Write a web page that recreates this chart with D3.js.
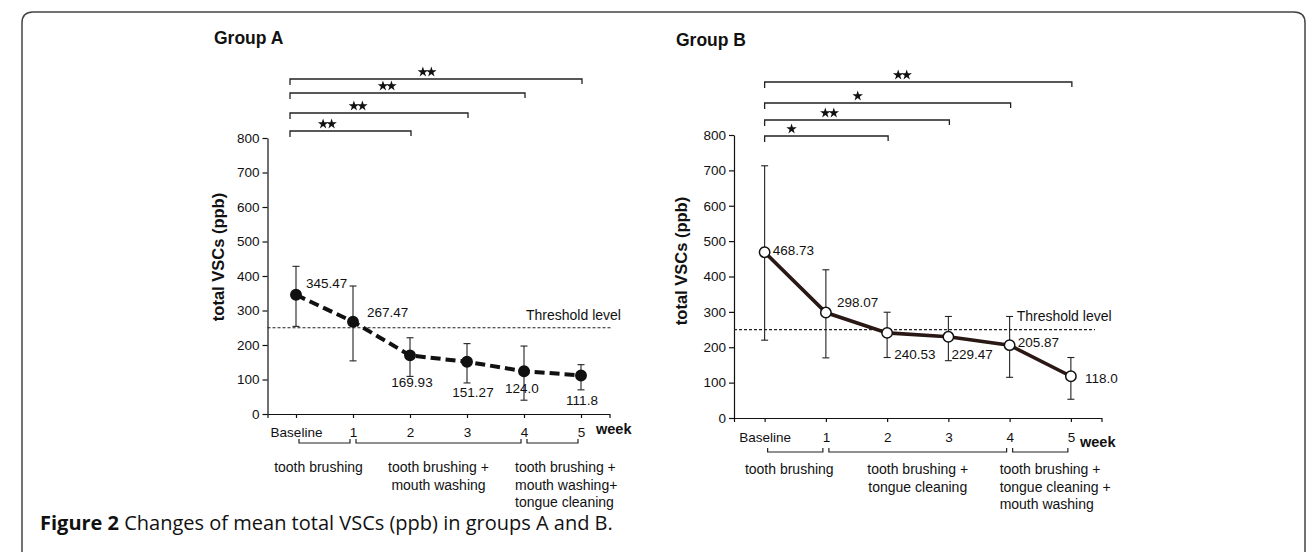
<!DOCTYPE html>
<html>
<head>
<meta charset="utf-8">
<script src="https://cdn.jsdelivr.net/npm/d3@7"></script>
<style>
  body { margin: 0; background: #fff; }
  svg { display: block; font-family: "Liberation Sans", Arial, sans-serif; }
  .axis path, .axis line { stroke: #111; stroke-width: 1.2; }
  .axis text { font-size: 13.5px; fill: #111; font-family: "Liberation Sans", Arial, sans-serif; }
</style>
</head>
<body>
<svg width="1313" height="552"></svg>
<script>
// ---- data ----
var categories = ["Baseline", "1", "2", "3", "4", "5"];
var weeks = [0, 1, 2, 3, 4, 5];
var yTicks = [0, 100, 200, 300, 400, 500, 600, 700, 800];
var threshold = 250;

var meanA  = [345.47, 267.47, 169.93, 151.27, 124.0, 111.8];
var upperA = [428, 371, 221, 204, 197, 143];
var lowerA = [254, 154, 109, 90, 40, 70];

var meanB  = [468.73, 298.07, 240.53, 229.47, 205.87, 118.0];
var upperB = [713, 419, 299, 287, 287, 171];
var lowerB = [220, 170, 171, 162, 115, 53];

// significance vs baseline, outermost bracket first
var sigEndA   = [5, 4, 3, 2];
var sigMarkA  = ["**", "**", "**", "**"];
var sigStarAtA = [2.3, 1.6, 1.09, 0.55];
var sigEndB   = [5, 4, 3, 2];
var sigMarkB  = ["**", "*", "**", "*"];
var sigStarAtB = [2.25, 1.52, 1.06, 0.44];

var phasesA = [
  { from: 0, to: 1, lines: ["tooth brushing"] },
  { from: 1, to: 4, lines: ["tooth brushing +", "mouth washing"] },
  { from: 4, to: 5, lines: ["tooth brushing +", "mouth washing+", "tongue cleaning"] }
];
var phasesB = [
  { from: 0, to: 1, lines: ["tooth brushing"] },
  { from: 1, to: 4, lines: ["tooth brushing +", "tongue cleaning"] },
  { from: 4, to: 5, lines: ["tooth brushing +", "tongue cleaning +", "mouth washing"] }
];

// ---- layout ----
var svg = d3.select("svg");

// page frame (rounded box, open at the bottom)
svg.append("path")
  .attr("d", "M22,560V23Q22,12 33,12H1294Q1305,12 1305,23V560")
  .attr("fill", "none").attr("stroke", "#444").attr("stroke-width", 1.5);

var panelA = {
  title: "Group A", titleX: 214, titleY: 44,
  left: 267.5, right: 609.5, bottom: 414, top: 138,
  yTitleX: 218, yTitleY: 257,
  threshEnd: 612, threshDx: 2,
  weekX: 596, weekY: 434, tickPad: 9,
  mean: meanA, upper: upperA, lower: lowerA,
  filled: true,
  labelOff: [[10, -12, "start"], [14, -9, "start"], [2, 27, "middle"], [6, 30, "middle"], [-2, 17, "middle"], [1, 25, "middle"]],
  sigEnd: sigEndA, sigMark: sigMarkA, sigStarAt: sigStarAtA,
  sigY: [79, 93, 113, 131], sigDx: -6,
  phases: phasesA, phaseY: 443, phaseTextY: 472, lastDx: -9
};
var panelB = {
  title: "Group B", titleX: 676, titleY: 46,
  left: 734, right: 1101.5, bottom: 418, top: 135,
  yTitleX: 681, yTitleY: 261,
  threshEnd: 1095, threshDx: 7,
  weekX: 1080, weekY: 447, tickPad: 10,
  mean: meanB, upper: upperB, lower: lowerB,
  filled: false,
  labelOff: [[8, -2, "start"], [11, -10, "start"], [7, 21, "start"], [3, 17, "start"], [8, -3, "start"], [14, 2, "start"]],
  sigEnd: sigEndB, sigMark: sigMarkB, sigStarAt: sigStarAtB,
  sigY: [82, 103, 120, 136], sigDx: 0,
  phases: phasesB, phaseY: 452, phaseTextY: 474, lastDx: -10
};

function drawPanel(p) {
  var x = d3.scaleLinear().domain([-0.5, 5.5]).range([p.left, p.right]);
  var y = d3.scaleLinear().domain([0, 800]).range([p.bottom, p.top]);
  var g = svg.append("g");

  g.append("text")
    .attr("x", p.titleX).attr("y", p.titleY)
    .attr("font-size", 17.5).attr("font-weight", "bold").attr("fill", "#111")
    .text(p.title);

  // axes
  g.append("g").attr("class", "axis")
    .attr("transform", "translate(" + p.left + ",0)")
    .call(d3.axisLeft(y).tickValues(yTicks).tickSize(5).tickSizeOuter(0));

  g.append("g").attr("class", "axis")
    .attr("transform", "translate(0," + p.bottom + ")")
    .call(d3.axisBottom(x).tickValues(weeks).tickFormat(i => categories[i])
      .tickSize(4).tickSizeOuter(4).tickPadding(p.tickPad));

  g.append("text")
    .attr("x", p.weekX).attr("y", p.weekY)
    .attr("font-size", 14.5).attr("font-weight", "bold").attr("fill", "#111")
    .text("week");

  g.append("text")
    .attr("transform", "translate(" + p.yTitleX + "," + p.yTitleY + ") rotate(-90)")
    .attr("text-anchor", "middle").attr("dy", "0.35em")
    .attr("font-size", 16.5).attr("font-weight", "bold").attr("fill", "#111")
    .text("total VSCs (ppb)");

  // threshold
  g.append("line")
    .attr("x1", p.left).attr("x2", p.threshEnd)
    .attr("y1", y(threshold)).attr("y2", y(threshold))
    .attr("stroke", "#222").attr("stroke-width", 1.2).attr("stroke-dasharray", "3,2");
  g.append("text")
    .attr("x", x(4) + p.threshDx).attr("y", y(threshold) - 13)
    .attr("dy", "0.35em").attr("font-size", 14).attr("fill", "#111")
    .text("Threshold level");

  // error bars
  var eb = g.selectAll(".eb").data(weeks).enter().append("g").attr("class", "eb");
  eb.append("line")
    .attr("x1", i => x(i)).attr("x2", i => x(i))
    .attr("y1", i => y(p.lower[i])).attr("y2", i => y(p.upper[i]))
    .attr("stroke", "#222").attr("stroke-width", 1.1);
  eb.append("line")
    .attr("x1", i => x(i) - 3.5).attr("x2", i => x(i) + 3.5)
    .attr("y1", i => y(p.upper[i])).attr("y2", i => y(p.upper[i]))
    .attr("stroke", "#222").attr("stroke-width", 1.1);
  eb.append("line")
    .attr("x1", i => x(i) - 3.5).attr("x2", i => x(i) + 3.5)
    .attr("y1", i => y(p.lower[i])).attr("y2", i => y(p.lower[i]))
    .attr("stroke", "#222").attr("stroke-width", 1.1);

  // mean line
  var line = d3.line().x((v, i) => x(i)).y(v => y(v));
  g.append("path")
    .datum(p.mean)
    .attr("d", line)
    .attr("fill", "none")
    .attr("stroke", p.filled ? "#111" : "#2a1814")
    .attr("stroke-width", p.filled ? 4 : 3.6)
    .attr("stroke-dasharray", p.filled ? "10,5" : null);

  g.selectAll(".pt").data(p.mean).enter().append("circle")
    .attr("cx", (v, i) => x(i)).attr("cy", v => y(v)).attr("r", 5.2)
    .attr("fill", p.filled ? "#111" : "#fff")
    .attr("stroke", "#111").attr("stroke-width", 1.5);

  g.selectAll(".val").data(p.mean).enter().append("text")
    .attr("x", (v, i) => x(i) + p.labelOff[i][0])
    .attr("y", (v, i) => y(v) + p.labelOff[i][1])
    .attr("text-anchor", (v, i) => p.labelOff[i][2])
    .attr("dy", "0.35em").attr("font-size", 13.5).attr("fill", "#111")
    .text(v => v % 1 === 0 ? v.toFixed(1) : String(v));

  // significance brackets
  var star = d3.symbol().type(d3.symbolStar).size(34);
  p.sigEnd.forEach(function (end, j) {
    var ly = p.sigY[j];
    var x0 = x(0) + p.sigDx, x1 = x(end) + 1;
    g.append("path")
      .attr("d", "M" + x0 + "," + (ly + 6) + "V" + ly + "H" + x1 + "V" + (ly + 5))
      .attr("fill", "none").attr("stroke", "#222").attr("stroke-width", 1.3);
    var n = p.sigMark[j].length;
    for (var k = 0; k < n; k++) {
      g.append("path")
        .attr("d", star)
        .attr("transform", "translate(" + (x(p.sigStarAt[j]) + (k - (n - 1) / 2) * 8.5) + "," + (ly - 7) + ")")
        .attr("fill", "#111");
    }
  });

  // treatment phase brackets
  p.phases.forEach(function (ph, j) {
    var xa = x(ph.from) + 3, xb = x(ph.to) - 3;
    g.append("path")
      .attr("d", "M" + xa + "," + (p.phaseY - 4) + "V" + p.phaseY + "H" + xb + "V" + (p.phaseY - 4))
      .attr("fill", "none").attr("stroke", "#222").attr("stroke-width", 1.2);
    var last = j === p.phases.length - 1;
    var t = g.append("text")
      .attr("x", last ? x(ph.from) + p.lastDx : (x(ph.from) + x(ph.to)) / 2 - (j === 0 ? 6 : 0))
      .attr("y", p.phaseTextY)
      .attr("text-anchor", last ? "start" : "middle")
      .attr("font-size", 14).attr("fill", "#111");
    ph.lines.forEach(function (s, k) {
      t.append("tspan").attr("x", t.attr("x")).attr("dy", k === 0 ? 0 : 17.5).text(s);
    });
  });
}

drawPanel(panelA);
drawPanel(panelB);

// caption
var cap = svg.append("text")
  .attr("x", 40).attr("y", 530)
  .attr("font-family", "'Open Sans', 'Noto Sans', sans-serif")
  .attr("font-size", 20).attr("fill", "#111");
cap.append("tspan").attr("font-weight", "bold").text("Figure 2");
cap.append("tspan").text(" Changes of mean total VSCs (ppb) in groups A and B.");
</script>
</body>
</html>
